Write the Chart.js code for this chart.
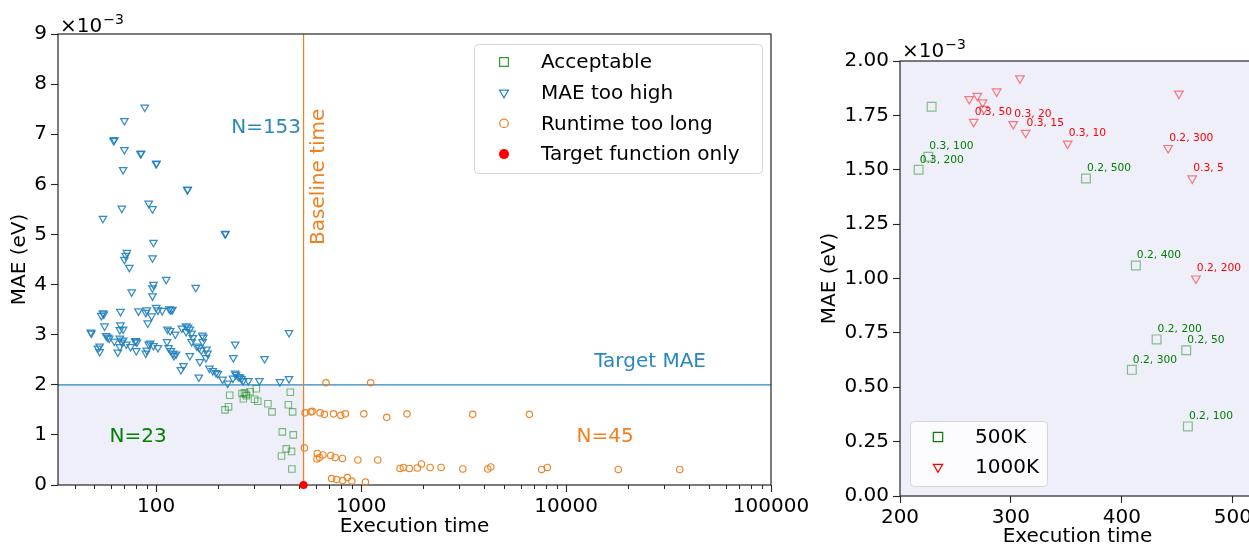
<!DOCTYPE html>
<html>
<head>
<meta charset="utf-8">
<title>MAE vs execution time</title>
<script src="https://cdn.jsdelivr.net/npm/chart.js@4.4.1/dist/chart.umd.min.js"></script>
<style>
  html, body { margin: 0; padding: 0; background: #fff; width: 1249px; height: 546px; overflow: hidden; }
  #wrap { position: relative; width: 1249px; height: 546px; overflow: hidden; }
  #left { position: absolute; left: 0; top: 0; }
  #right { position: absolute; left: 800px; top: 0; }
</style>
</head>
<body>
<div id="wrap">
  <canvas id="left" width="840" height="546"></canvas>
  <canvas id="right" width="470" height="546"></canvas>
</div>
<script>
'use strict';

const FONT = "'DejaVu Sans', 'Liberation Sans', sans-serif";
const C_BLUE   = '#2a87bf';
const C_ORANGE = '#f0801e';
const C_GREEN  = '#008000';
const C_RED    = '#ff0000';
const C_SHADE  = '#efeffa';
const C_AXIS   = '#262626';

// MAE values are stored in units of 1e-3 eV (axis offset "x10^-3")

// "MAE too high" runs
const highTime = [88, 70, 62, 62.5, 70, 84, 84.5, 100, 100.5, 69,
  142, 142.5, 92, 96, 68, 55, 217, 218, 97, 72,
  71, 70, 96, 74, 112, 97, 96, 76, 156, 96,
  55, 54, 55.5, 67, 82, 90, 89, 95, 100, 102,
  107, 116, 118, 120, 91, 56, 48, 48.3, 67, 66.5,
  69, 57, 58, 59, 62.5, 69, 68, 66.5, 53, 52,
  53, 66.5, 65, 71.5, 75, 79, 79.5, 80.5, 80, 89,
  90, 92, 93.5, 97, 102, 113.5, 117, 124, 113, 115,
  118, 121, 122, 125, 132, 136, 133.5, 140, 143, 146,
  140, 149, 151, 149, 158, 162, 168, 170, 168.5, 166,
  176, 178, 175, 146, 163.5, 161.5, 182, 189, 196, 200,
  211, 223.5, 237, 243, 245, 252, 256.5, 261, 266, 282,
  319, 402, 445, 238, 243, 338, 445];
const highMae = [7.54, 7.27, 6.87, 6.89, 6.69, 6.61, 6.62, 6.41, 6.42, 6.29,
  5.89, 5.90, 5.62, 5.51, 5.52, 5.32, 5.01, 5.02, 4.84, 4.64,
  4.58, 4.50, 4.53, 4.34, 4.10, 4.00, 3.93, 3.85, 3.94, 3.77,
  3.43, 3.38, 3.41, 3.46, 3.47, 3.49, 3.44, 3.37, 3.54, 3.49,
  3.48, 3.51, 3.49, 3.50, 3.23, 3.17, 3.05, 3.03, 3.19, 3.10,
  3.11, 2.98, 2.95, 2.93, 2.87, 2.89, 2.85, 2.93, 2.77, 2.73,
  2.66, 2.76, 2.65, 2.81, 2.76, 2.87, 2.88, 2.85, 2.68, 2.63,
  2.69, 2.81, 2.83, 2.78, 2.74, 3.11, 3.08, 3.01, 2.86, 2.74,
  2.68, 2.63, 2.58, 2.61, 2.30, 2.38, 3.13, 3.17, 3.15, 3.11,
  3.06, 3.03, 2.94, 2.86, 2.77, 2.74, 2.99, 2.95, 2.86, 2.69,
  2.71, 2.63, 2.54, 2.58, 2.46, 2.15, 2.33, 2.28, 2.24, 2.22,
  2.11, 2.03, 2.13, 2.23, 2.20, 2.16, 2.15, 2.12, 2.08, 2.08,
  2.08, 2.06, 2.12, 2.54, 2.81, 2.52, 3.04];

// "Runtime too long" runs
const longTime = [674, 1113, 533, 568, 578, 631, 662, 733, 796, 838,
  1031, 1334, 1675, 3505, 6627, 529, 612, 608, 627, 651,
  711, 747, 811, 964, 1206, 1549, 1608, 1721, 1883, 1970,
  2172, 2456, 3135, 4150, 4296, 7600, 8100, 17990, 35880, 718,
  760, 813, 857, 901, 1050];
const longMae = [2.04, 2.04, 1.44, 1.46, 1.47, 1.44, 1.41, 1.42, 1.39, 1.42,
  1.42, 1.35, 1.42, 1.41, 1.41, 0.74, 0.63, 0.52, 0.55, 0.60,
  0.59, 0.55, 0.53, 0.50, 0.50, 0.33, 0.35, 0.33, 0.34, 0.42,
  0.35, 0.35, 0.32, 0.32, 0.36, 0.31, 0.35, 0.31, 0.31, 0.13,
  0.11, 0.09, 0.15, 0.08, 0.06];

// acceptable runs, split by training set size (right panel)
const k500Time  = [228.5, 225.5, 216.8, 367.6, 412.6, 431.3, 458, 409, 459.5];
const k500Mae   = [1.79, 1.56, 1.50, 1.46, 1.06, 0.72, 0.67, 0.58, 0.32];
const k500Label = ['', '0.3, 100', '0.3, 200', '0.2, 500', '0.2, 400', '0.2, 200', '0.2, 50', '0.2, 300', '0.2, 100'];

const k1000Time  = [308.1, 287.1, 262.4, 269.7, 274.5, 275.7, 266.4, 302.1, 313.2, 351.1, 451.4, 441.7, 463.4, 466.7];
const k1000Mae   = [1.92, 1.86, 1.825, 1.84, 1.81, 1.78, 1.72, 1.71, 1.67, 1.62, 1.85, 1.60, 1.46, 1.00];
const k1000Label = ['', '', '', '', '', '', '0.3, 50', '0.3, 20', '0.3, 15', '0.3, 10', '', '0.2, 300', '0.3, 5', '0.2, 200'];

const targetOnlyTime = [524];
const targetOnlyMae  = [0];

const baselineTime = 524;
const targetMae    = 2;

const leftXTicks  = [100, 1000, 10000, 100000];
const leftYTicks  = [0, 1, 2, 3, 4, 5, 6, 7, 8, 9];
const rightXTicks = [200, 300, 400, 500];
const rightYTicks = [0, 0.25, 0.5, 0.75, 1, 1.25, 1.5, 1.75, 2];

const pts = (xs, ys) => xs.map((x, i) => ({ x: x, y: ys[i] }));

function font(size) { return size + 'px ' + FONT; }

function axisTitle(text, pad) {
  return { display: true, text: text, color: '#000', font: { family: FONT, size: 20 }, padding: pad };
}

function tickStyle(cb, pad) {
  return { autoSkip: false, maxRotation: 0, padding: pad, color: '#000', font: { family: FONT, size: 20 }, callback: cb };
}

const gridTicks = { drawOnChartArea: false, drawTicks: true, tickLength: 7, tickColor: C_AXIS, tickWidth: 1.1 };

function drawFrame(ctx, a) {
  ctx.save();
  ctx.strokeStyle = C_AXIS;
  ctx.lineWidth = 1.2;
  ctx.strokeRect(a.left, a.top, a.right - a.left, a.bottom - a.top);
  ctx.restore();
}

function drawOffset(ctx, x, y) {
  ctx.save();
  ctx.fillStyle = '#000';
  ctx.textBaseline = 'alphabetic';
  ctx.textAlign = 'left';
  ctx.font = font(20);
  ctx.fillText('\u00d710', x, y);
  const w = ctx.measureText('\u00d710').width;
  ctx.font = font(14);
  ctx.fillText('\u22123', x + w + 1, y - 8);
  ctx.restore();
}

function drawLegend(ctx, box, rows) {
  ctx.save();
  ctx.beginPath();
  ctx.roundRect(box.x + 0.5, box.y + 0.5, box.w, box.h, 4);
  ctx.fillStyle = 'rgba(255,255,255,0.8)';
  ctx.fill();
  ctx.strokeStyle = '#d6d6d6';
  ctx.lineWidth = 1;
  ctx.stroke();
  rows.forEach((r, i) => {
    const y = box.y + box.first + i * box.step;
    ctx.fillStyle = r.fill;
    ctx.strokeStyle = r.stroke;
    ctx.lineWidth = 1.2;
    Chart.helpers.drawPoint(ctx, { pointStyle: r.style, rotation: r.rotation || 0, radius: r.radius, borderWidth: r.fill === 'transparent' ? 1.2 : 0 }, box.x + box.mark, y);
    ctx.fillStyle = '#000';
    ctx.font = font(20);
    ctx.textAlign = 'left';
    ctx.textBaseline = 'middle';
    ctx.fillText(r.text, box.x + box.text, y + 1);
  });
  ctx.restore();
}

// left panel: background regions, reference lines, minor log ticks, notes, legend
const leftDecor = {
  id: 'leftDecor',
  beforeDatasetsDraw(chart) {
    const { ctx, chartArea: a, scales: { x, y } } = chart;
    const xb = x.getPixelForValue(baselineTime);
    const yt = y.getPixelForValue(targetMae);
    ctx.save();
    ctx.fillStyle = C_SHADE;
    ctx.fillRect(a.left, yt, xb - a.left, a.bottom - yt);
    ctx.lineWidth = 1.2;
    ctx.strokeStyle = C_BLUE;
    ctx.beginPath(); ctx.moveTo(a.left, yt); ctx.lineTo(a.right, yt); ctx.stroke();
    ctx.strokeStyle = C_ORANGE;
    ctx.beginPath(); ctx.moveTo(xb, a.top); ctx.lineTo(xb, a.bottom); ctx.stroke();

    // minor ticks of the log axis
    ctx.strokeStyle = C_AXIS;
    ctx.lineWidth = 1;
    const e0 = Math.floor(Math.log10(x.min)), e1 = Math.ceil(Math.log10(x.max));
    for (let e = e0; e <= e1; e++) {
      for (let m = 2; m <= 9; m++) {
        const v = m * Math.pow(10, e);
        if (v < x.min || v > x.max) continue;
        const px = Math.round(x.getPixelForValue(v)) + 0.5;
        ctx.beginPath(); ctx.moveTo(px, a.bottom); ctx.lineTo(px, a.bottom + 4); ctx.stroke();
      }
    }
    ctx.restore();
    drawFrame(ctx, a);
  },
  afterDraw(chart) {
    const { ctx, chartArea: a, scales: { x, y } } = chart;
    ctx.save();
    ctx.font = font(20);
    ctx.textAlign = 'center';
    ctx.textBaseline = 'middle';
    const notes = [
      { text: 'N=153', x: 344, y: 7.13, color: C_BLUE },
      { text: 'N=23', x: 81.7, y: 0.96, color: C_GREEN },
      { text: 'N=45', x: 15500, y: 0.96, color: C_ORANGE },
      { text: 'Target MAE', x: 25700, y: 2.45, color: C_BLUE }
    ];
    notes.forEach(n => {
      ctx.fillStyle = n.color;
      ctx.fillText(n.text, x.getPixelForValue(n.x), y.getPixelForValue(n.y));
    });
    ctx.translate(x.getPixelForValue(baselineTime) + 15, y.getPixelForValue(6.15));
    ctx.rotate(-Math.PI / 2);
    ctx.fillStyle = C_ORANGE;
    ctx.fillText('Baseline time', 0, 0);
    ctx.restore();

    drawOffset(ctx, a.left + 2, a.top - 2);

    drawLegend(ctx, { x: a.right - 297, y: a.top + 10, w: 288, h: 129, first: 18, step: 30.7, mark: 30, text: 67 }, [
      { text: 'Acceptable', style: 'rect', radius: 6.2, fill: 'transparent', stroke: '#2ca02c' },
      { text: 'MAE too high', style: 'triangle', rotation: 180, radius: 5.2, fill: 'transparent', stroke: C_BLUE },
      { text: 'Runtime too long', style: 'circle', radius: 4.3, fill: 'transparent', stroke: C_ORANGE },
      { text: 'Target function only', style: 'circle', radius: 5, fill: C_RED, stroke: C_RED }
    ]);
  }
};

new Chart(document.getElementById('left'), {
  type: 'scatter',
  data: {
    datasets: [
      { label: 'Target function only', data: pts(targetOnlyTime, targetOnlyMae), order: 0, clip: false,
        pointStyle: 'circle', pointRadius: 4, pointBackgroundColor: C_RED, pointBorderColor: C_RED, pointBorderWidth: 0 },
      { label: 'Runtime too long', data: pts(longTime, longMae), order: 1, clip: false,
        pointStyle: 'circle', pointRadius: 3.2, pointBackgroundColor: 'transparent', pointBorderColor: 'rgba(240,128,30,0.95)', pointBorderWidth: 1.2 },
      { label: 'MAE too high', data: pts(highTime, highMae), order: 2, clip: false,
        pointStyle: 'triangle', pointRotation: 180, pointRadius: 4.3, pointBackgroundColor: 'transparent', pointBorderColor: 'rgba(31,128,190,0.9)', pointBorderWidth: 1.25 },
      { label: 'Acceptable', data: pts(k500Time.concat(k1000Time), k500Mae.concat(k1000Mae)), order: 3, clip: false,
        pointStyle: 'rect', pointRadius: 4.6, pointBackgroundColor: 'transparent', pointBorderColor: 'rgba(0,128,0,0.5)', pointBorderWidth: 1.1 }
    ]
  },
  options: {
    responsive: false,
    animation: false,
    events: [],
    layout: { padding: { left: 0, top: 34, right: 69, bottom: 0 } },
    plugins: { legend: { display: false }, tooltip: { enabled: false } },
    scales: {
      x: {
        type: 'logarithmic', min: 33.2, max: 100000,
        afterBuildTicks: s => { s.ticks = leftXTicks.map(v => ({ value: v })); },
        afterFit: s => { s.height = 61; },
        border: { display: false },
        grid: gridTicks,
        ticks: tickStyle(v => String(v), 3),
        title: axisTitle('Execution time', { top: 0, bottom: 7 })
      },
      y: {
        min: 0, max: 9,
        afterBuildTicks: s => { s.ticks = leftYTicks.map(v => ({ value: v })); },
        afterFit: s => { s.width = 58; },
        border: { display: false },
        grid: gridTicks,
        ticks: tickStyle(v => String(v), 4),
        title: axisTitle('MAE (eV)', { top: 8, bottom: 0 })
      }
    }
  },
  plugins: [leftDecor]
});

// right panel: shaded plot area, point labels, legend
const rightDecor = {
  id: 'rightDecor',
  beforeDatasetsDraw(chart) {
    const { ctx, chartArea: a } = chart;
    ctx.save();
    ctx.fillStyle = C_SHADE;
    ctx.fillRect(a.left, a.top, a.right - a.left, a.bottom - a.top);
    ctx.restore();
    drawFrame(ctx, a);
  },
  afterDraw(chart) {
    const { ctx, chartArea: a, scales: { x, y } } = chart;
    ctx.save();
    ctx.font = font(10.7);
    ctx.textAlign = 'left';
    ctx.textBaseline = 'middle';
    const groups = [
      { t: k500Time, m: k500Mae, l: k500Label, color: C_GREEN },
      { t: k1000Time, m: k1000Mae, l: k1000Label, color: C_RED }
    ];
    groups.forEach(g => {
      ctx.fillStyle = g.color;
      g.l.forEach((txt, i) => {
        if (!txt) return;
        ctx.fillText(txt, x.getPixelForValue(g.t[i]) + 1, y.getPixelForValue(g.m[i]) - 10);
      });
    });
    ctx.restore();

    drawOffset(ctx, a.left + 2, a.top - 4);

    drawLegend(ctx, { x: a.left + 10, y: a.bottom - 75, w: 137, h: 65, first: 16, step: 30, mark: 28, text: 65 }, [
      { text: '500K', style: 'rect', radius: 6.6, fill: 'transparent', stroke: C_GREEN },
      { text: '1000K', style: 'triangle', rotation: 180, radius: 5.4, fill: 'transparent', stroke: C_RED }
    ]);
  }
};

new Chart(document.getElementById('right'), {
  type: 'scatter',
  data: {
    datasets: [
      { label: '500K', data: pts(k500Time, k500Mae), clip: false,
        pointStyle: 'rect', pointRadius: 6.2, pointBackgroundColor: 'transparent', pointBorderColor: 'rgba(0,128,0,0.45)', pointBorderWidth: 1.2 },
      { label: '1000K', data: pts(k1000Time, k1000Mae), clip: false,
        pointStyle: 'triangle', pointRotation: 180, pointRadius: 5, pointBackgroundColor: 'transparent', pointBorderColor: 'rgba(255,0,0,0.5)', pointBorderWidth: 1.2 }
    ]
  },
  options: {
    responsive: false,
    animation: false,
    events: [],
    layout: { padding: { left: 0, top: 61, right: 15, bottom: 0 } },
    plugins: { legend: { display: false }, tooltip: { enabled: false } },
    scales: {
      x: {
        type: 'linear', min: 200, max: 520,
        afterBuildTicks: s => { s.ticks = rightXTicks.map(v => ({ value: v })); },
        afterFit: s => { s.height = 50; },
        border: { display: false },
        grid: gridTicks,
        ticks: tickStyle(v => String(v), 3),
        title: axisTitle('Execution time', { top: 0, bottom: -3 })
      },
      y: {
        min: 0, max: 2,
        afterBuildTicks: s => { s.ticks = rightYTicks.map(v => ({ value: v })); },
        afterFit: s => { s.width = 100; },
        border: { display: false },
        grid: gridTicks,
        ticks: tickStyle(v => v.toFixed(2), 4),
        title: axisTitle('MAE (eV)', { top: 18, bottom: 0 })
      }
    }
  },
  plugins: [rightDecor]
});
</script>
</body>
</html>
